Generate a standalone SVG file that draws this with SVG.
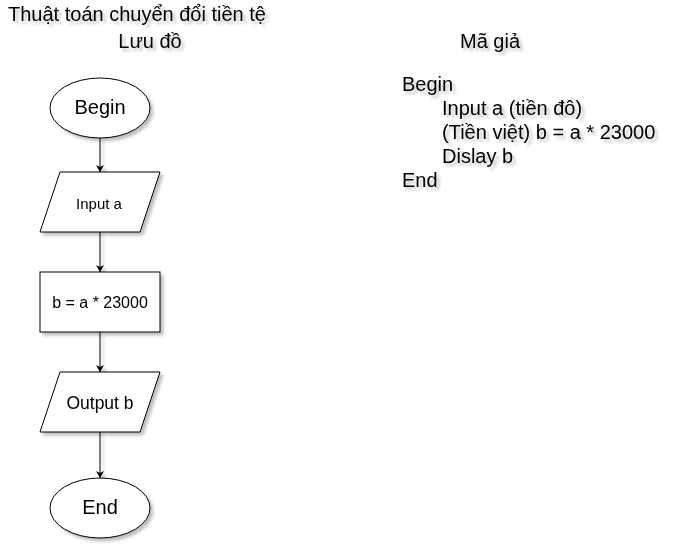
<svg xmlns="http://www.w3.org/2000/svg" width="682" height="554" viewBox="0 0 682 554">
<defs>
<filter id="sh" x="-20%" y="-20%" width="150%" height="150%">
<feGaussianBlur in="SourceAlpha" stdDeviation="1.5"/>
<feOffset dx="2.5" dy="2.5" result="o"/>
<feComponentTransfer><feFuncA type="linear" slope="0.25"/></feComponentTransfer>
<feMerge><feMergeNode/><feMergeNode in="SourceGraphic"/></feMerge>
</filter>
<marker id="ah" markerWidth="10" markerHeight="10" refX="8" refY="5" orient="auto" markerUnits="userSpaceOnUse">
<path d="M1,1 L8,5 L1,9 L3,5 Z" fill="#000"/>
</marker>
</defs>
<style>
text{font-family:"Liberation Sans",Arial,sans-serif;fill:#000}
.s{fill:#fff;stroke:#000;stroke-width:1}
.c{stroke:#000;stroke-width:1;fill:none;marker-end:url(#ah)}
.m{text-anchor:middle;dominant-baseline:central}
</style>
<rect width="682" height="554" fill="#fff"/>
<g filter="url(#sh)">
<text x="8" y="21" font-size="20">Thuật toán chuyển đổi tiền tệ</text>
<text x="150" y="48" font-size="20" text-anchor="middle">Lưu đồ</text>
<text x="490" y="48" font-size="20" text-anchor="middle">Mã giả</text>
<g id="pseudo" font-size="20">
<text x="402" y="91">Begin</text>
<text x="442" y="115">Input a (tiền đô)</text>
<text x="442" y="139">(Tiền việt) b = a * 23000</text>
<text x="442" y="163">Dislay b</text>
<text x="402" y="187">End</text>
</g>
<g id="connectors">
<line class="c" x1="100" y1="138" x2="100" y2="172"/>
<line class="c" x1="100" y1="232" x2="100" y2="272"/>
<line class="c" x1="100" y1="332" x2="100" y2="372"/>
<line class="c" x1="100" y1="432" x2="100" y2="478"/>
</g>
<g id="begin">
<ellipse class="s" cx="100" cy="108" rx="50" ry="30"/>
<text class="m" x="100" y="107" font-size="20">Begin</text>
</g>
<g id="input">
<polygon class="s" points="60,172 160,172 140,232 40,232"/>
<text class="m" x="99" y="203" font-size="15">Input a</text>
</g>
<g id="process">
<rect class="s" x="40" y="272" width="120" height="60"/>
<text class="m" x="100" y="302" font-size="16">b = a * 23000</text>
</g>
<g id="output">
<polygon class="s" points="60,372 160,372 140,432 40,432"/>
<text class="m" x="100" y="403" font-size="17.5">Output b</text>
</g>
<g id="end">
<ellipse class="s" cx="100" cy="508" rx="50" ry="30"/>
<text class="m" x="100" y="507" font-size="20">End</text>
</g>
</g>
</svg>
